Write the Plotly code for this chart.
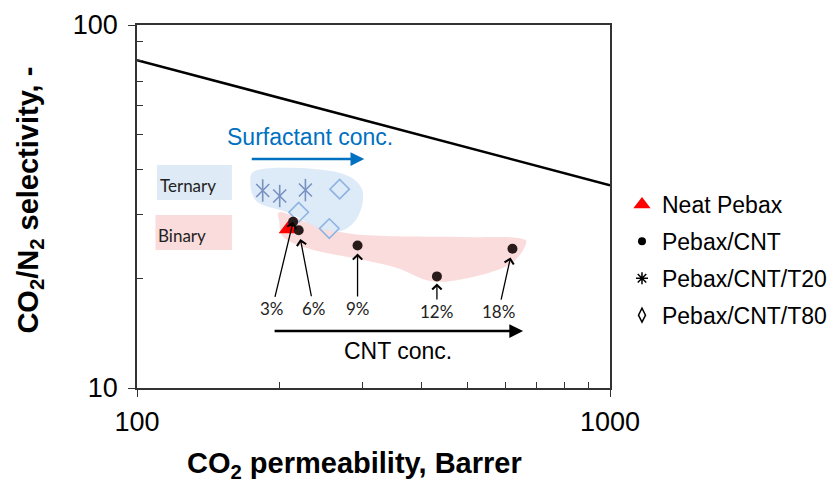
import math
import plotly.graph_objects as go

# ---------------- data ----------------
bound_x = [100, 1000]
bound_y = [80, 36.2]

neat_x = [209]
neat_y = [27.4]

cnt_x = [213.8, 219.7, 292.6, 430.6, 622]
cnt_y = [28.7, 27.2, 24.7, 20.3, 24.2]
cnt_labels = ["3%", "6%", "9%", "12%", "18%"]

t20_x = [184.4, 200.3, 227]
t20_y = [35.0, 33.8, 35.1]

t80_x = [268.2, 219.7, 255]
t80_y = [35.3, 30.5, 27.5]

x_major = [100, 1000]
x_minor = [200, 300, 400, 500, 600, 700, 800, 900]
y_major = [10, 100]
y_minor = [20, 30, 40, 50, 60, 70, 80, 90]

# ---------------- layout helpers ----------------
W, H = 838, 486
L, R, T, B = 136.5, 610, 25, 388
FONT = "Liberation Sans, Arial, sans-serif"
CAL = "Lato, Carlito, Calibri, sans-serif"


def px2paper(px, py):
    return (px - L) / (R - L), (B - py) / (B - T)


def smooth_path(pts):
    p = [px2paper(a, b) for a, b in pts]
    n = len(p)
    d = "M%.5f,%.5f" % p[0]
    for i in range(n):
        p0, p1, p2, p3 = p[i - 1], p[i], p[(i + 1) % n], p[(i + 2) % n]
        c1 = (p1[0] + (p2[0] - p0[0]) / 6, p1[1] + (p2[1] - p0[1]) / 6)
        c2 = (p2[0] - (p3[0] - p1[0]) / 6, p2[1] - (p3[1] - p1[1]) / 6)
        d += " C%.5f,%.5f %.5f,%.5f %.5f,%.5f" % (c1 + c2 + p2)
    return d + " Z"


blue_blob = [(250, 183), (257, 170), (300, 168), (343, 174), (362, 190),
             (358, 216), (341, 231), (318, 228), (297, 217), (283, 211), (257, 202)]
pink_blob = [(281, 212), (317, 226), (363, 235), (463, 237), (518, 238), (525, 246),
             (507, 266), (463, 279), (430, 281), (397, 268), (363, 260), (313, 250),
             (284, 238), (279, 222)]

fig = go.Figure()

fig.add_trace(go.Scatter(x=bound_x, y=bound_y, mode="lines",
                         line=dict(color="black", width=2.5), showlegend=False,
                         hoverinfo="skip"))

# plotted markers
T20C = "#7891C2"
T80C = "#8DB3E2"
fig.add_trace(go.Scatter(x=t20_x, y=t20_y, mode="markers", showlegend=False,
                         marker=dict(symbol="x-thin-open", size=13, color=T20C,
                                     line=dict(color=T20C, width=1.6))))
fig.add_trace(go.Scatter(x=t20_x, y=t20_y, mode="markers", showlegend=False,
                         marker=dict(symbol="line-ns-open", size=16, color=T20C,
                                     line=dict(color=T20C, width=1.6))))
fig.add_trace(go.Scatter(x=t80_x, y=t80_y, mode="markers", showlegend=False,
                         marker=dict(symbol="diamond-open", size=15, color=T80C,
                                     line=dict(color=T80C, width=1.6))))
fig.add_trace(go.Scatter(x=neat_x, y=neat_y, mode="markers", showlegend=False,
                         marker=dict(symbol="triangle-up", size=17, color="#FF0000")))
fig.add_trace(go.Scatter(x=cnt_x, y=cnt_y, mode="markers", showlegend=False,
                         marker=dict(symbol="circle", size=10, color="#2A1B1B")))

# legend entries
leg = [("Neat Pebax", dict(symbol="triangle-up", size=15, color="#FF0000")),
       ("Pebax/CNT", dict(symbol="circle", size=8, color="black")),
       ("Pebax/CNT/T20", dict(symbol="asterisk-open", size=10, color="black",
                              line=dict(color="black", width=1.5))),
       ("Pebax/CNT/T80", dict(symbol="diamond-tall-open", size=10, color="black",
                              line=dict(color="black", width=1.5)))]
for i, (name, mk) in enumerate(leg):
    fig.add_trace(go.Scatter(x=[None], y=[None], mode="markers", name=name,
                             legendgroup="g%d" % i, marker=mk))

shapes = []
# blobs
shapes.append(dict(type="path", xref="paper", yref="paper", path=smooth_path(pink_blob),
                   fillcolor="#FADCDC", line=dict(width=0), layer="below"))
shapes.append(dict(type="path", xref="paper", yref="paper", path=smooth_path(blue_blob),
                   fillcolor="rgba(218,232,246,0.92)", line=dict(width=0), layer="below"))
# label boxes
x0, y0 = px2paper(156.5, 200)
x1, y1 = px2paper(231.5, 165)
shapes.append(dict(type="rect", xref="paper", yref="paper", x0=x0, y0=y0, x1=x1, y1=y1,
                   fillcolor="#DEEAF6", line=dict(width=0), layer="below"))
x0, y0 = px2paper(155, 250)
x1, y1 = px2paper(231.5, 215)
shapes.append(dict(type="rect", xref="paper", yref="paper", x0=x0, y0=y0, x1=x1, y1=y1,
                   fillcolor="#FADCDC", line=dict(width=0), layer="below"))

annotations = []


def pap(px, py):
    return px2paper(px, py)


# label texts
ax_, ay_ = pap(158, 185)
annotations.append(dict(x=ax_, y=ay_, xref="paper", yref="paper", text="Ternary",
                        showarrow=False, xanchor="left", yanchor="middle",
                        font=dict(family=CAL, size=17, color="#222222")))
ax_, ay_ = pap(156, 235)
annotations.append(dict(x=ax_, y=ay_, xref="paper", yref="paper", text="Binary",
                        showarrow=False, xanchor="left", yanchor="middle",
                        font=dict(family=CAL, size=17, color="#222222")))

# surfactant arrow + text
sx1, sy1 = pap(364, 159)
annotations.append(dict(x=sx1, y=sy1, ax=-(364 - 250), ay=0, xref="paper", yref="paper",
                        text="", showarrow=True,
                        arrowhead=2, arrowsize=1.1, arrowwidth=2.5, arrowcolor="#0070C0"))
tx, ty = pap(310, 137)
annotations.append(dict(x=tx, y=ty, xref="paper", yref="paper", text="Surfactant conc.",
                        showarrow=False, xanchor="center", yanchor="middle",
                        font=dict(family=FONT, size=23, color="#0070C0")))

# CNT arrow + text
cx1, cy1 = pap(523, 331)
annotations.append(dict(x=cx1, y=cy1, ax=-(523 - 273), ay=0, xref="paper", yref="paper",
                        text="", showarrow=True,
                        arrowhead=2, arrowsize=1.1, arrowwidth=2.5, arrowcolor="black"))
tx, ty = pap(398, 351)
annotations.append(dict(x=tx, y=ty, xref="paper", yref="paper", text="CNT conc.",
                        showarrow=False, xanchor="center", yanchor="middle",
                        font=dict(family=FONT, size=23, color="black")))

# percentage arrows (label offset in px, standoff)
offsets = [(-21, 87, 0), (15, 78, 9), (0, 63, 8), (0, 35, 7), (-14, 63, 9)]
for xv, yv, lab, (dx, dy, so) in zip(cnt_x, cnt_y, cnt_labels, offsets):
    annotations.append(dict(x=math.log10(xv), y=math.log10(yv), xref="x", yref="y",
                            text=lab, showarrow=True,
                            ax=dx, ay=dy, arrowhead=4, arrowsize=1.4, arrowwidth=1.3,
                            arrowcolor="black", standoff=so,
                            font=dict(family=CAL, size=17, color="#222222")))

# axis titles
tx, ty = pap(29, 200)
annotations.append(dict(x=tx, y=ty, xref="paper", yref="paper", textangle=-90,
                        text="<b>CO<sub>2</sub>/N<sub>2</sub> selectivity, -</b>",
                        showarrow=False, xanchor="center", yanchor="middle",
                        font=dict(family=FONT, size=29, color="black")))
tx, ty = pap(354.5, 465)
annotations.append(dict(x=tx, y=ty, xref="paper", yref="paper",
                        text="<b>CO<sub>2</sub> permeability, Barrer</b>",
                        showarrow=False, xanchor="center", yanchor="middle",
                        font=dict(family=FONT, size=29, color="black")))

axis_common = dict(showgrid=False, zeroline=False, showline=True, linecolor="#333333",
                   linewidth=1.5, mirror=True, ticks="outside", ticklen=7, tickwidth=1.2,
                   tickcolor="#333333", tickfont=dict(family=FONT, size=27, color="black"))

fig.update_layout(
    width=W, height=H,
    margin=dict(l=L, r=W - R, t=T, b=H - B, autoexpand=False),
    paper_bgcolor="white", plot_bgcolor="white",
    xaxis=dict(type="log", range=[2, 3], tickmode="array", tickvals=x_major,
               ticktext=[str(v) for v in x_major], ticklabelstandoff=2,
               minor=dict(tickmode="array", tickvals=x_minor, ticks="inside", ticklen=6,
                          tickwidth=1.2, tickcolor="#333333", showgrid=False),
               **axis_common),
    yaxis=dict(type="log", range=[1, 2], tickmode="array", tickvals=y_major,
               ticktext=[str(v) for v in y_major], ticklabelstandoff=5,
               minor=dict(tickmode="array", tickvals=y_minor, ticks="inside", ticklen=6,
                          tickwidth=1.2, tickcolor="#333333", showgrid=False),
               **axis_common),
    legend=dict(x=px2paper(622, 0)[0], y=px2paper(0, 183)[1], xanchor="left", yanchor="top",
                font=dict(family=FONT, size=23, color="black"), tracegroupgap=4,
                bgcolor="rgba(0,0,0,0)"),
    shapes=shapes, annotations=annotations, showlegend=True,
)

fig.write_html("out.html")
